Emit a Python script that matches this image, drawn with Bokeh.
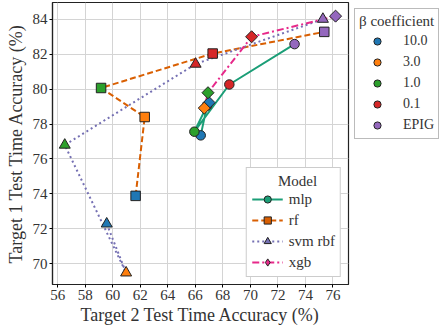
import math
from bokeh.plotting import figure
from bokeh.models import Legend, LegendItem, ColumnDataSource, FixedTicker, Range1d
from bokeh.embed import file_html
from bokeh.resources import INLINE

betas = ["10.0", "3.0", "1.0", "0.1", "EPIG"]
beta_colors = ["#1f77b4", "#ff7f0e", "#2ca02c", "#d62728", "#9467bd"]

models = ["mlp", "rf", "svm rbf", "xgb"]
model_colors = ["#1b9e77", "#d95f02", "#7570b3", "#e7298a"]

mlp_x = [66.39, 66.85, 65.93, 68.47, 73.21]
mlp_y = [77.35, 79.05, 77.56, 80.26, 82.57]
rf_x = [61.66, 62.32, 59.15, 67.26, 75.37]
rf_y = [73.89, 78.40, 80.06, 82.03, 83.27]
svm_x = [59.56, 60.97, 56.51, 66.02, 75.27]
svm_y = [72.29, 69.49, 76.80, 81.43, 84.00]
xgb_x = [67.00, 66.65, 66.92, 70.09, 76.19]
xgb_y = [79.22, 78.91, 79.79, 82.99, 84.17]

x_ticks = [56, 58, 60, 62, 64, 66, 68, 70, 72, 74, 76]
y_ticks = [70, 72, 74, 76, 78, 80, 82, 84]

FONT = "Liberation Serif"
NAN = float("nan")

p = figure(frame_width=296, frame_height=282, output_backend="svg", toolbar_location=None,
           x_range=Range1d(55.62, 77.13), y_range=Range1d(68.82, 84.95),
           min_border_left=52, min_border_right=0, min_border_top=2, min_border_bottom=47)
p.background_fill_color = "white"
p.border_fill_color = "white"
p.outline_line_color = "#222222"
p.outline_line_width = 1.2

for ax in (p.xaxis[0], p.yaxis[0]):
    ax.axis_line_color = "#222222"
    ax.axis_line_width = 1.2
    ax.major_tick_in = 0
    ax.major_tick_out = 3
    ax.minor_tick_line_color = None
    ax.major_label_text_font = FONT
    ax.major_label_text_font_size = "15px"
    ax.major_label_text_color = "#333333"
    ax.axis_label_text_font = FONT
    ax.axis_label_text_font_size = "18px"
    ax.axis_label_text_font_style = "normal"
    ax.axis_label_text_color = "#333333"
p.xaxis.ticker = FixedTicker(ticks=x_ticks)
p.yaxis.ticker = FixedTicker(ticks=y_ticks)
p.xaxis.axis_label = "Target 2 Test Time Accuracy (%)"
p.yaxis.axis_label = "Target 1 Test Time Accuracy (%)"
p.xaxis.major_label_standoff = 2
p.yaxis.major_label_standoff = 2
p.xaxis.axis_label_standoff = 2
p.yaxis.axis_label_standoff = 4
p.grid.grid_line_color = "#d4d4d4"
p.grid.grid_line_width = 1

data = [(mlp_x, mlp_y), (rf_x, rf_y), (svm_x, svm_y), (xgb_x, xgb_y)]
dashes = ["solid", "6 3", "2 3", "7 3 2 3"]
markers = ["circle", "square", "triangle", "square"]
sizes = [9.5, 9.5, 11, 8.5]
angles = [0, 0, 0, math.pi / 4]

lines = []
for (xs, ys), c, d in zip(data, model_colors, dashes):
    lines.append(p.line(xs, ys, line_color=c, line_width=2, line_dash=d))

for (xs, ys), m, s, a in zip(data, markers, sizes, angles):
    src = ColumnDataSource(dict(x=xs, y=ys, c=beta_colors))
    p.scatter("x", "y", source=src, marker=m, size=s, angle=a, fill_color="c",
              line_color="#222222", line_width=1)

# legend proxies (NaN coordinates -> not drawn in the plot)
leg_markers = ["circle", "square", "triangle", "diamond"]
leg_sizes = [9.5, 9.5, 11, 15]
model_items = []
for i, name in enumerate(models):
    proxy = p.scatter(x=[NAN], y=[NAN], marker=leg_markers[i], size=leg_sizes[i],
                      fill_color=model_colors[i], line_color="#222222", line_width=1)
    model_items.append(LegendItem(label=name, renderers=[lines[i], proxy]))

beta_items = []
for b, c in zip(betas, beta_colors):
    proxy = p.scatter(x=[NAN], y=[NAN], marker="circle", size=9.5, fill_color=c,
                      line_color="#222222", line_width=1)
    beta_items.append(LegendItem(label=b, renderers=[proxy]))

NB = "\u00a0"
leg_model = Legend(items=model_items, location="bottom_right", title=NB * 7 + "Model",
                   glyph_width=31, glyph_height=18, spacing=3, padding=5, margin=7,
                   label_standoff=6,
                   label_text_font=FONT, label_text_font_size="15px", label_text_color="#333333",
                   title_text_font=FONT, title_text_font_size="15px", title_text_font_style="normal",
                   title_text_color="#333333", title_standoff=0,
                   border_line_color="#999999", border_line_width=1.2,
                   background_fill_color="white", background_fill_alpha=1)
p.add_layout(leg_model)

leg_beta = Legend(items=beta_items, location="top_left", title="β coefficient",
                  glyph_width=36, glyph_height=18, spacing=3, padding=4, margin=6,
                  label_standoff=8,
                  label_text_font=FONT, label_text_font_size="14px", label_text_color="#333333",
                  title_text_font=FONT, title_text_font_size="15px", title_text_font_style="normal",
                  title_text_color="#333333", title_standoff=2,
                  border_line_color="#777777", border_line_width=1.2,
                  background_fill_color="white", background_fill_alpha=1)
p.add_layout(leg_beta, "right")

open("out.html", "w").write(file_html(p, INLINE))
